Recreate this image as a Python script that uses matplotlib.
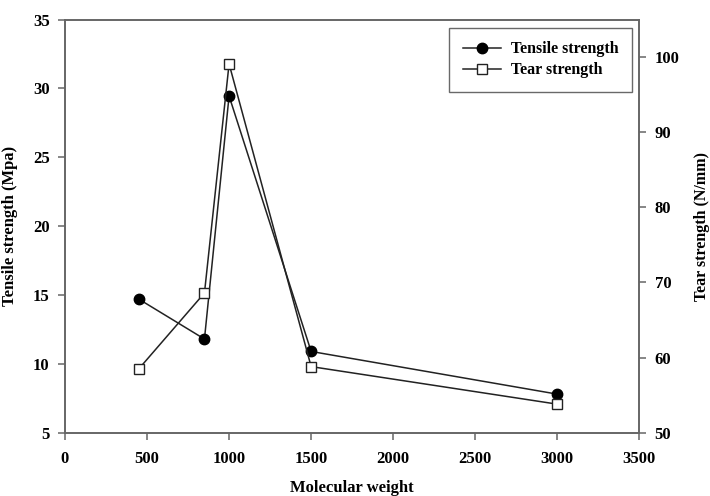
import matplotlib
matplotlib.use("Agg")
import matplotlib.pyplot as plt
from matplotlib.lines import Line2D

mol_weight = [450, 850, 1000, 1500, 3000]
tensile = [14.7, 11.8, 29.45, 10.9, 7.8]
tear = [58.5, 68.6, 99.1, 58.8, 53.8]

plt.rcParams["font.family"] = ["Liberation Serif", "DejaVu Serif"]
plt.rcParams["font.weight"] = "bold"

fig = plt.figure(figsize=(7.1, 4.96), dpi=100)
ax = fig.add_axes([0.0915, 0.1276, 0.809, 0.833])
ax2 = ax.twinx()

line_c = "#222222"
spine_c = "#666666"

ax.plot(mol_weight, tensile, color=line_c, lw=1.1, marker="o", ms=7.5,
        mfc="black", mec="black", zorder=3)
ax2.plot(mol_weight, tear, color=line_c, lw=1.1, marker="s", ms=7.5,
         mfc="white", mec=line_c, mew=1.0, zorder=3)

ax.set_xlim(0, 3500)
ax.set_ylim(5, 35)
ax2.set_ylim(50, 105)
ax.set_xticks(range(0, 3501, 500))
ax.set_yticks(range(5, 36, 5))
ax2.set_yticks(range(50, 101, 10))

for a in (ax, ax2):
    for s in a.spines.values():
        s.set_color(spine_c)
        s.set_linewidth(1.2)
    a.tick_params(direction="out", length=5, width=1.1, color=spine_c,
                  labelsize=12, pad=6)
ax.tick_params(axis="x", pad=8)

ax.set_xlabel("Molecular weight", fontsize=12, fontweight="bold")
ax.xaxis.set_label_coords(0.5, -0.114)
ax.set_ylabel("Tensile strength (Mpa)", fontsize=12, fontweight="bold")
ax.yaxis.set_label_coords(-0.082, 0.5)
ax2.set_ylabel("Tear strength (N/mm)", fontsize=11.5, fontweight="bold")
ax2.yaxis.set_label_coords(1.095, 0.5)

handles = [
    Line2D([0], [0], color=line_c, lw=1.1, marker="o", ms=7.5, mfc="black", mec="black"),
    Line2D([0], [0], color=line_c, lw=1.1, marker="s", ms=7.5, mfc="white", mec=line_c),
]
leg = ax2.legend(handles, ["Tensile strength", "Tear strength"],
                 loc="upper right", bbox_to_anchor=(0.987, 0.98), borderaxespad=0,
                 fancybox=False, edgecolor="#444444", fontsize=11.5,
                 handlelength=2.4, handletextpad=0.6, borderpad=0.85, labelspacing=0.3)
leg.get_frame().set_linewidth(1.0)

fig.savefig("out.png", dpi=100)
